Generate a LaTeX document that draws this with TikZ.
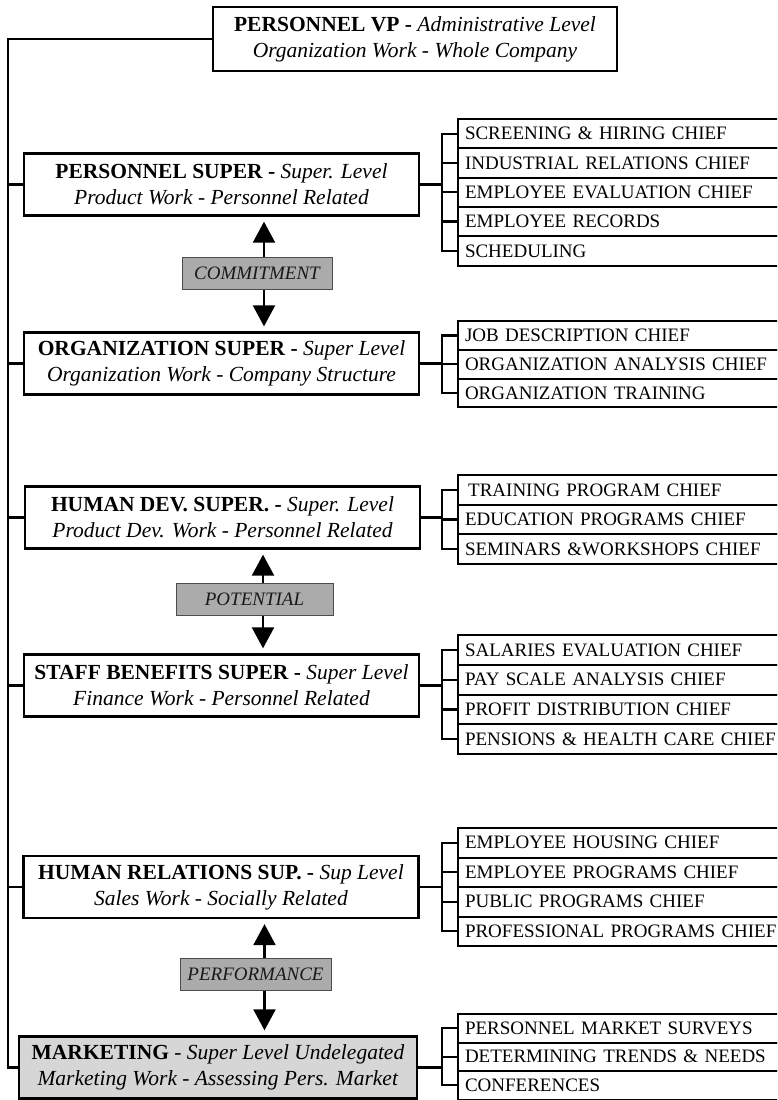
\documentclass[tikz,border=0pt]{standalone}
\usepackage{fontspec}
\setmainfont{Liberation Serif}
\usetikzlibrary{arrows.meta}
\begin{document}
\begin{tikzpicture}[x=1pt,y=-1pt,
  mainbox/.style={draw, line width=2.3pt, fill=white, minimum width=395pt,
    minimum height=62pt, inner sep=0pt, align=center,
    font=\fontsize{21.5}{26}\selectfont},
  chiefbox/.style={draw, line width=2pt, fill=white, anchor=north west,
    outer sep=0pt, text width=330pt, align=left, inner xsep=7pt,
    inner ysep=0pt, minimum height=29.3pt, font=\fontsize{19}{21}\selectfont},
  tagbox/.style={draw=black!70, line width=1pt, fill=black!33,
    minimum height=32pt, inner sep=0pt,
    font=\itshape\fontsize{19}{21}\selectfont, text=black!90},
  link/.style={line width=2.3pt},
  bigarrow/.style={line width=2.2pt, -{Triangle[length=21pt,width=22pt]},
    shorten >=5pt},
]
\clip (0,0) rectangle (777,1100);
\fill[white] (0,0) rectangle (777,1100);

% ---- department heads ----
\node[mainbox, minimum width=404pt, minimum height=64pt] (vp) at (415,39)
  {\textbf{PERSONNEL VP -} \textit{Administrative Level}\\
   \textit{Organization Work - Whole Company}};
\node[mainbox] (ps) at (221.5,184.5)
  {\textbf{PERSONNEL SUPER -} \textit{Super. Level}\\
   \textit{Product Work - Personnel Related}};
\node[mainbox] (os) at (221.5,363.5)
  {\textbf{ORGANIZATION SUPER -} \textit{Super Level}\\
   \textit{Organization Work - Company Structure}};
\node[mainbox] (hd) at (222.5,517.5)
  {\textbf{HUMAN DEV. SUPER. -} \textit{Super. Level}\\
   \textit{Product Dev. Work - Personnel Related}};
\node[mainbox] (sb) at (221.5,685.5)
  {\textbf{STAFF BENEFITS SUPER -} \textit{Super Level}\\
   \textit{Finance Work - Personnel Related}};
\node[mainbox] (hr) at (221,887)
  {\textbf{HUMAN RELATIONS SUP. -} \textit{Sup Level}\\
   \textit{Sales Work - Socially Related}};
\node[mainbox, fill=black!16, minimum width=398pt] (mk) at (218,1067.5)
  {\textbf{MARKETING} - \textit{Super Level Undelegated}\\
   \textit{Marketing Work - Assessing Pers. Market}};

% ---- left spine ----
\coordinate (sp) at (8,0);
\draw[link] (vp.west) -- (vp.west -| sp) -- (mk.west -| sp) -- (mk.west);
\foreach \b in {ps,os,hd,sb,hr}
  \draw[link] (\b.west -| sp) -- (\b.west);

% ---- chiefs ----
\node[chiefbox] (a1) at (458,119) {SCREENING \& HIRING CHIEF};
\node[chiefbox] (a2) at (a1.south west) {INDUSTRIAL RELATIONS CHIEF};
\node[chiefbox] (a3) at (a2.south west) {EMPLOYEE EVALUATION CHIEF};
\node[chiefbox] (a4) at (a3.south west) {EMPLOYEE RECORDS};
\node[chiefbox] (a5) at (a4.south west) {SCHEDULING};

\node[chiefbox, minimum height=28.8pt] (b1) at (458,321) {JOB DESCRIPTION CHIEF};
\node[chiefbox, minimum height=28.8pt] (b2) at (b1.south west) {ORGANIZATION ANALYSIS CHIEF};
\node[chiefbox, minimum height=28.8pt] (b3) at (b2.south west) {ORGANIZATION TRAINING};

\node[chiefbox, minimum height=29.7pt] (c1) at (458,475) {\,TRAINING PROGRAM CHIEF};
\node[chiefbox, minimum height=29.7pt] (c2) at (c1.south west) {EDUCATION PROGRAMS CHIEF};
\node[chiefbox, minimum height=29.7pt] (c3) at (c2.south west) {SEMINARS \&WORKSHOPS CHIEF};

\node[chiefbox, minimum height=29.8pt] (d1) at (458,635) {SALARIES EVALUATION CHIEF};
\node[chiefbox, minimum height=29.8pt] (d2) at (d1.south west) {PAY SCALE ANALYSIS CHIEF};
\node[chiefbox, minimum height=29.8pt] (d3) at (d2.south west) {PROFIT DISTRIBUTION CHIEF};
\node[chiefbox, minimum height=29.8pt] (d4) at (d3.south west) {PENSIONS \& HEALTH CARE CHIEF};

\node[chiefbox, minimum height=29.5pt] (e1) at (458,828) {EMPLOYEE HOUSING CHIEF};
\node[chiefbox, minimum height=29.5pt] (e2) at (e1.south west) {EMPLOYEE PROGRAMS CHIEF};
\node[chiefbox, minimum height=29.5pt] (e3) at (e2.south west) {PUBLIC PROGRAMS CHIEF};
\node[chiefbox, minimum height=29.5pt] (e4) at (e3.south west) {PROFESSIONAL PROGRAMS CHIEF};

\node[chiefbox, minimum height=28.5pt] (f1) at (458,1014) {PERSONNEL MARKET SURVEYS};
\node[chiefbox, minimum height=28.5pt] (f2) at (f1.south west) {DETERMINING TRENDS \& NEEDS};
\node[chiefbox, minimum height=28.5pt] (f3) at (f2.south west) {CONFERENCES};

% ---- brackets from each head to its chiefs ----
\draw[link] (ps.east) -- ([xshift=-16pt]a1.west |- ps.east);
\draw[link] (a1.west) -- ++(-16,0) |- (a5.west);
\foreach \c in {a2,a3,a4} \draw[link] (\c.west) -- ++(-16,0);

\draw[link] (os.east) -- ([xshift=-16pt]b1.west |- os.east);
\draw[link] (b1.west) -- ++(-16,0) |- (b3.west);
\draw[link] (b2.west) -- ++(-16,0);

\draw[link] (hd.east) -- ([xshift=-16pt]c1.west |- hd.east);
\draw[link] (c1.west) -- ++(-16,0) |- (c3.west);
\draw[link] (c2.west) -- ++(-16,0);

\draw[link] (sb.east) -- ([xshift=-16pt]d1.west |- sb.east);
\draw[link] (d1.west) -- ++(-16,0) |- (d4.west);
\foreach \c in {d2,d3} \draw[link] (\c.west) -- ++(-16,0);

\draw[link] (hr.east) -- ([xshift=-16pt]e1.west |- hr.east);
\draw[link] (e1.west) -- ++(-16,0) |- (e4.west);
\foreach \c in {e2,e3} \draw[link] (\c.west) -- ++(-16,0);

\draw[link] (mk.east) -- ([xshift=-16pt]f1.west |- mk.east);
\draw[link] (f1.west) -- ++(-16,0) |- (f3.west);
\draw[link] (f2.west) -- ++(-16,0);

% ---- relationship tags between heads ----
\node[tagbox, minimum width=150pt] (cm) at (257,273) {COMMITMENT};
\node[tagbox, minimum width=157pt] (pt) at (254.5,599) {POTENTIAL};
\node[tagbox, minimum width=151pt] (pf) at (255.5,974.5) {PERFORMANCE};

\draw[bigarrow] ([xshift=7pt]cm.north) -- ([xshift=7pt]cm.north |- ps.south);
\draw[bigarrow] ([xshift=7pt]cm.south) -- ([xshift=7pt]cm.south |- os.north);
\draw[bigarrow] ([xshift=8.5pt]pt.north) -- ([xshift=8.5pt]pt.north |- hd.south);
\draw[bigarrow] ([xshift=8.5pt]pt.south) -- ([xshift=8.5pt]pt.south |- sb.north);
\draw[bigarrow] ([xshift=9pt]pf.north) -- ([xshift=9pt]pf.north |- hr.south);
\draw[bigarrow] ([xshift=9pt]pf.south) -- ([xshift=9pt]pf.south |- mk.north);
\end{tikzpicture}
\end{document}
